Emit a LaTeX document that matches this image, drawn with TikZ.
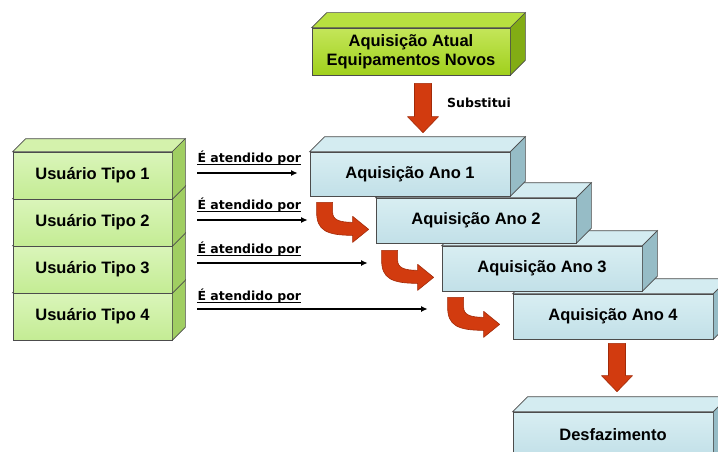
\documentclass[tikz,border=0pt]{standalone}
\usepackage{fontspec}
\setmainfont{Liberation Sans}
\newfontfamily\tagfont{DejaVu Sans}
\usetikzlibrary{arrows.meta,calc}

% face colours of the blocks
\definecolor{greenfront}{HTML}{C4EC94}
\definecolor{greenhi}{HTML}{DAF5BA}
\definecolor{greentop}{HTML}{D4F2AC}
\definecolor{greenside}{HTML}{A0CE62}
\definecolor{limefront}{HTML}{A0D01C}
\definecolor{limehi}{HTML}{C4E65A}
\definecolor{limetop}{HTML}{B8E040}
\definecolor{limeside}{HTML}{82AC14}
\definecolor{bluefront}{HTML}{C2E0E8}
\definecolor{bluehi}{HTML}{D8EEF2}
\definecolor{bluetop}{HTML}{D4ECF1}
\definecolor{blueside}{HTML}{96BCC6}
\definecolor{arrowred}{HTML}{D23B0F}
\definecolor{arrowedge}{HTML}{A22A08}

\tikzset{
  boxedge/.style={draw=black!70, line width=0.7pt},
  block/.style={boxedge, inner sep=0pt, font=\fontsize{16.5}{19}\selectfont\bfseries, align=center},
  redarrow/.style={fill=arrowred, draw=arrowedge, line width=0.6pt, line join=round},
  conn/.style={line width=1.8pt, -{Latex[length=6.5pt,width=6pt]}},
  tag/.style={inner sep=0pt, font=\tagfont\fontsize{12.5}{14}\selectfont\bfseries},
  underl/.style={line width=0.7pt},
  turnarrow/.pic={
    \filldraw[redarrow] (0,0) -- (0,10) .. controls (0,28) and (10,33) .. (36,33)
      -- (36,40) -- (52,27) -- (36,14) -- (36,20)
      .. controls (22,20) and (16,17) .. (16,10) -- (16,0) -- cycle;
  }
}

% block with top and side faces: name, centre, width, height, colour set, depth, text
\newcommand\cubebox[7]{%
  \node[block, top color=#5hi, bottom color=#5front, minimum width=#3, minimum height=#4] (#1) at (#2) {#7};
  \filldraw[boxedge, fill=#5top] (#1.north west) -- ++(#6,-#6) -- ([shift={(#6,-#6)}]#1.north east) -- (#1.north east) -- cycle;
  \filldraw[boxedge, fill=#5side] (#1.north east) -- ++(#6,-#6) -- ([shift={(#6,-#6)}]#1.south east) -- (#1.south east) -- cycle;
}

% thick downward block arrow between two points
\newcommand\dropArrow[2]{%
  \filldraw[redarrow] let \p1=(#1), \p2=(#2) in
    ({\x1-8.5pt},\y1) -- ({\x1+8.5pt},\y1) -- ({\x1+8.5pt},{\y2+16pt}) -- ({\x1+15.5pt},{\y2+16pt})
    -- (\x1,\y2) -- ({\x1-15.5pt},{\y2+16pt}) -- ({\x1-8.5pt},{\y2+16pt}) -- cycle;
}

\begin{document}
\begin{tikzpicture}[x=1pt, y=-1pt]
\clip (0,0) rectangle (718,452);
\fill[white] (0,0) rectangle (718,452);

% current acquisition
\cubebox{atual}{411,51.5}{198pt}{47pt}{lime}{15}{Aquisição Atual\\Equipamentos Novos}

% user types, back to front
\cubebox{u4}{92.5,316.5}{159pt}{47pt}{green}{13}{Usuário Tipo 4}
\cubebox{u3}{92.5,269.5}{159pt}{47pt}{green}{13}{Usuário Tipo 3}
\cubebox{u2}{92.5,222.5}{159pt}{47pt}{green}{13}{Usuário Tipo 2}
\cubebox{u1}{92.5,175.5}{159pt}{47pt}{green}{13}{Usuário Tipo 1}

% yearly acquisitions, back to front
\cubebox{desf}{613,434.5}{200pt}{45pt}{blue}{15}{Desfazimento}
\cubebox{a4}{613,316.5}{200pt}{45pt}{blue}{15}{Aquisição Ano 4}
\cubebox{a3}{542,268.5}{200pt}{45pt}{blue}{15}{Aquisição Ano 3}
\cubebox{a2}{476,220.5}{200pt}{45pt}{blue}{15}{Aquisição Ano 2}
\cubebox{a1}{410,174}{200pt}{44pt}{blue}{15}{Aquisição Ano 1}

% turning arrows from one year to the next
\coordinate (c1) at ([shift={(7,6)}]a1.south west);
\coordinate (c2) at ([shift={(6,7)}]a2.south west);
\coordinate (c3) at ([shift={(6,6)}]a3.south west);
\pic at (c1) {turnarrow};
\pic at (c2) {turnarrow};
\pic at (c3) {turnarrow};

% vertical block arrows
\dropArrow{[shift={(12,8)}]atual.south}{[shift={(12,-19)}]a1.north}
\dropArrow{[shift={(4,4)}]a4.south}{[shift={(4,-20)}]desf.north}
\node[tag, anchor=base west] (subst) at ([shift={(36,32)}]atual.south) {Substitui};

% users served by each year
\coordinate (r1) at ([shift={(25,-2.5)}]u1.east);
\coordinate (r2) at ([shift={(25,-2.5)}]u2.east);
\coordinate (r3) at ([shift={(25,-6.5)}]u3.east);
\coordinate (r4) at ([shift={(25,-7.5)}]u4.east);
\draw[conn] (r1) -- ([xshift=-12pt]a1.west |- r1);
\draw[conn] (r2) -- ([xshift=-9pt]c1 |- r2);
\draw[conn] (r3) -- ([xshift=-14pt]c2 |- r3);
\draw[conn] (r4) -- ([xshift=-20pt]c3 |- r4);

\node[tag, anchor=base west] (t1) at ([yshift=11pt]r1) {É atendido por};
\node[tag, anchor=base west] (t2) at ([yshift=11pt]r2) {É atendido por};
\node[tag, anchor=base west] (t3) at ([yshift=10pt]r3) {É atendido por};
\node[tag, anchor=base west] (t4) at ([yshift=9pt]r4) {É atendido por};
\foreach \t in {t1,t2,t3,t4}
  \draw[underl] ([yshift=-2.5pt]\t.base west) -- ([yshift=-2.5pt]\t.base east);
\end{tikzpicture}
\end{document}
